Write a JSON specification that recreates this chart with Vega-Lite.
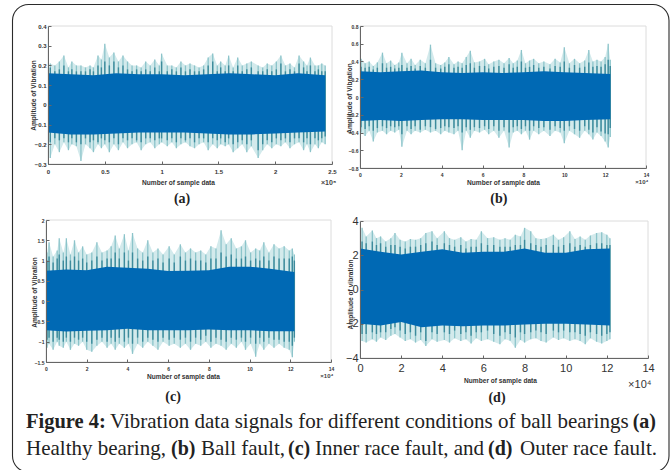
{"$schema":"https://vega.github.io/schema/vega-lite/v6.json","autosize":"none","width":670,"height":470,"padding":0,"background":"white",
"config":{"view":{"stroke":null},"axis":{"grid":false,"format":"~g","domainColor":"#666","tickColor":"#666","labelColor":"#333","titleColor":"#333","labelFont":"Liberation Sans","titleFont":"Liberation Sans","labelFontWeight":"bold","titleFontWeight":"bold","labelFontSize":6,"titleFontSize":6.6,"titleBaseline":"middle","tickSize":-3,"labelPadding":6,"labelFlush":false,"labelOverlap":false}},
"datasets":{
"as":[{"x":0.02,"h":0.21,"l":-0.27,"d":0.19,"e":-0.19},{"x":0.06,"h":0.2,"l":-0.2,"d":0.17,"e":-0.17},{"x":0.1,"h":0.22,"l":-0.24,"d":0.18,"e":-0.18},{"x":0.14,"h":0.25,"l":-0.19,"d":0.2,"e":-0.17},{"x":0.18,"h":0.19,"l":-0.23,"d":0.17,"e":-0.19},{"x":0.21,"h":0.22,"l":-0.2,"d":0.18,"e":-0.17},{"x":0.25,"h":0.2,"l":-0.21,"d":0.17,"e":-0.19},{"x":0.29,"h":0.2,"l":-0.285,"d":0.17,"e":-0.2},{"x":0.33,"h":0.19,"l":-0.2,"d":0.17,"e":-0.17},{"x":0.37,"h":0.2,"l":-0.22,"d":0.18,"e":-0.19},{"x":0.4,"h":0.19,"l":-0.24,"d":0.17,"e":-0.18},{"x":0.44,"h":0.25,"l":-0.2,"d":0.2,"e":-0.19},{"x":0.47,"h":0.23,"l":-0.22,"d":0.19,"e":-0.17},{"x":0.5,"h":0.31,"l":-0.2,"d":0.22,"e":-0.18},{"x":0.54,"h":0.24,"l":-0.24,"d":0.2,"e":-0.19},{"x":0.58,"h":0.265,"l":-0.2,"d":0.22,"e":-0.17},{"x":0.62,"h":0.22,"l":-0.23,"d":0.19,"e":-0.2},{"x":0.66,"h":0.25,"l":-0.19,"d":0.2,"e":-0.17},{"x":0.7,"h":0.22,"l":-0.22,"d":0.18,"e":-0.18},{"x":0.74,"h":0.2,"l":-0.2,"d":0.17,"e":-0.17},{"x":0.78,"h":0.2,"l":-0.19,"d":0.18,"e":-0.18},{"x":0.82,"h":0.19,"l":-0.23,"d":0.17,"e":-0.19},{"x":0.86,"h":0.22,"l":-0.2,"d":0.18,"e":-0.17},{"x":0.9,"h":0.2,"l":-0.19,"d":0.17,"e":-0.17},{"x":0.94,"h":0.23,"l":-0.22,"d":0.19,"e":-0.18},{"x":0.98,"h":0.2,"l":-0.2,"d":0.17,"e":-0.17},{"x":1.0,"h":0.26,"l":-0.19,"d":0.22,"e":-0.17},{"x":1.05,"h":0.2,"l":-0.21,"d":0.17,"e":-0.18},{"x":1.09,"h":0.2,"l":-0.19,"d":0.18,"e":-0.17},{"x":1.13,"h":0.19,"l":-0.22,"d":0.17,"e":-0.19},{"x":1.17,"h":0.22,"l":-0.2,"d":0.19,"e":-0.17},{"x":1.21,"h":0.2,"l":-0.19,"d":0.17,"e":-0.18},{"x":1.25,"h":0.21,"l":-0.21,"d":0.18,"e":-0.17},{"x":1.29,"h":0.2,"l":-0.22,"d":0.17,"e":-0.19},{"x":1.33,"h":0.19,"l":-0.2,"d":0.17,"e":-0.17},{"x":1.37,"h":0.2,"l":-0.19,"d":0.18,"e":-0.17},{"x":1.41,"h":0.24,"l":-0.23,"d":0.2,"e":-0.19},{"x":1.45,"h":0.26,"l":-0.2,"d":0.22,"e":-0.17},{"x":1.49,"h":0.2,"l":-0.22,"d":0.17,"e":-0.18},{"x":1.52,"h":0.22,"l":-0.2,"d":0.19,"e":-0.17},{"x":1.56,"h":0.2,"l":-0.21,"d":0.17,"e":-0.19},{"x":1.59,"h":0.25,"l":-0.2,"d":0.2,"e":-0.17},{"x":1.63,"h":0.19,"l":-0.24,"d":0.17,"e":-0.2},{"x":1.67,"h":0.24,"l":-0.22,"d":0.2,"e":-0.19},{"x":1.71,"h":0.2,"l":-0.2,"d":0.17,"e":-0.18},{"x":1.75,"h":0.21,"l":-0.24,"d":0.18,"e":-0.2},{"x":1.79,"h":0.22,"l":-0.21,"d":0.19,"e":-0.18},{"x":1.85,"h":0.2,"l":-0.27,"d":0.17,"e":-0.23},{"x":1.89,"h":0.19,"l":-0.23,"d":0.17,"e":-0.2},{"x":1.93,"h":0.21,"l":-0.2,"d":0.18,"e":-0.18},{"x":1.97,"h":0.2,"l":-0.22,"d":0.17,"e":-0.19},{"x":2.01,"h":0.22,"l":-0.2,"d":0.18,"e":-0.17},{"x":2.05,"h":0.25,"l":-0.21,"d":0.21,"e":-0.18},{"x":2.09,"h":0.2,"l":-0.19,"d":0.17,"e":-0.17},{"x":2.13,"h":0.21,"l":-0.22,"d":0.18,"e":-0.19},{"x":2.17,"h":0.19,"l":-0.2,"d":0.17,"e":-0.17},{"x":2.21,"h":0.25,"l":-0.19,"d":0.21,"e":-0.17},{"x":2.25,"h":0.22,"l":-0.23,"d":0.19,"e":-0.19},{"x":2.28,"h":0.2,"l":-0.2,"d":0.17,"e":-0.17},{"x":2.31,"h":0.24,"l":-0.24,"d":0.2,"e":-0.2},{"x":2.35,"h":0.2,"l":-0.2,"d":0.17,"e":-0.17},{"x":2.38,"h":0.2,"l":-0.22,"d":0.18,"e":-0.18},{"x":2.41,"h":0.21,"l":-0.19,"d":0.17,"e":-0.17},{"x":2.44,"h":0.2,"l":-0.2,"d":0.17,"e":-0.16}],
"ac":[{"x":0,"h":0.16,"l":-0.14},{"x":0.2,"h":0.155,"l":-0.15},{"x":0.4,"h":0.15,"l":-0.15},{"x":0.6,"h":0.16,"l":-0.145},{"x":0.8,"h":0.155,"l":-0.14},{"x":1,"h":0.155,"l":-0.14},{"x":1.2,"h":0.15,"l":-0.14},{"x":1.4,"h":0.155,"l":-0.145},{"x":1.6,"h":0.16,"l":-0.15},{"x":1.8,"h":0.155,"l":-0.15},{"x":2,"h":0.15,"l":-0.145},{"x":2.2,"h":0.16,"l":-0.14},{"x":2.44,"h":0.15,"l":-0.135}],
"bs":[{"x":0.05,"h":0.43,"l":-0.4,"d":0.34,"e":-0.34},{"x":0.25,"h":0.38,"l":-0.44,"d":0.33,"e":-0.36},{"x":0.45,"h":0.4,"l":-0.38,"d":0.34,"e":-0.33},{"x":0.65,"h":0.35,"l":-0.5,"d":0.31,"e":-0.38},{"x":0.85,"h":0.39,"l":-0.4,"d":0.33,"e":-0.35},{"x":1.1,"h":0.5,"l":-0.38,"d":0.38,"e":-0.33},{"x":1.3,"h":0.38,"l":-0.42,"d":0.33,"e":-0.35},{"x":1.5,"h":0.41,"l":-0.38,"d":0.34,"e":-0.33},{"x":1.7,"h":0.36,"l":-0.4,"d":0.32,"e":-0.34},{"x":1.9,"h":0.39,"l":-0.37,"d":0.33,"e":-0.33},{"x":2.05,"h":0.5,"l":-0.56,"d":0.36,"e":-0.42},{"x":2.3,"h":0.38,"l":-0.38,"d":0.33,"e":-0.33},{"x":2.5,"h":0.43,"l":-0.42,"d":0.35,"e":-0.36},{"x":2.7,"h":0.36,"l":-0.38,"d":0.32,"e":-0.33},{"x":2.95,"h":0.42,"l":-0.4,"d":0.35,"e":-0.37},{"x":3.2,"h":0.38,"l":-0.37,"d":0.33,"e":-0.33},{"x":3.45,"h":0.59,"l":-0.4,"d":0.42,"e":-0.34},{"x":3.7,"h":0.38,"l":-0.38,"d":0.33,"e":-0.36},{"x":3.95,"h":0.36,"l":-0.42,"d":0.32,"e":-0.35},{"x":4.15,"h":0.39,"l":-0.38,"d":0.34,"e":-0.33},{"x":4.35,"h":0.45,"l":-0.4,"d":0.37,"e":-0.34},{"x":4.6,"h":0.37,"l":-0.42,"d":0.33,"e":-0.35},{"x":4.8,"h":0.4,"l":-0.38,"d":0.34,"e":-0.33},{"x":5,"h":0.38,"l":-0.6,"d":0.33,"e":-0.4},{"x":5.2,"h":0.45,"l":-0.38,"d":0.36,"e":-0.34},{"x":5.4,"h":0.52,"l":-0.46,"d":0.38,"e":-0.37},{"x":5.6,"h":0.39,"l":-0.38,"d":0.33,"e":-0.34},{"x":5.85,"h":0.4,"l":-0.4,"d":0.35,"e":-0.35},{"x":6.1,"h":0.43,"l":-0.37,"d":0.35,"e":-0.33},{"x":6.3,"h":0.37,"l":-0.42,"d":0.32,"e":-0.36},{"x":6.55,"h":0.4,"l":-0.38,"d":0.34,"e":-0.33},{"x":6.8,"h":0.42,"l":-0.46,"d":0.35,"e":-0.38},{"x":7.05,"h":0.38,"l":-0.38,"d":0.33,"e":-0.34},{"x":7.3,"h":0.44,"l":-0.57,"d":0.37,"e":-0.4},{"x":7.5,"h":0.38,"l":-0.4,"d":0.33,"e":-0.34},{"x":7.7,"h":0.41,"l":-0.38,"d":0.34,"e":-0.33},{"x":7.9,"h":0.53,"l":-0.42,"d":0.4,"e":-0.36},{"x":8.1,"h":0.38,"l":-0.38,"d":0.33,"e":-0.33},{"x":8.3,"h":0.41,"l":-0.48,"d":0.34,"e":-0.38},{"x":8.5,"h":0.43,"l":-0.38,"d":0.36,"e":-0.33},{"x":8.75,"h":0.38,"l":-0.42,"d":0.33,"e":-0.35},{"x":9,"h":0.4,"l":-0.38,"d":0.34,"e":-0.34},{"x":9.3,"h":0.37,"l":-0.44,"d":0.32,"e":-0.37},{"x":9.55,"h":0.43,"l":-0.38,"d":0.35,"e":-0.33},{"x":9.8,"h":0.39,"l":-0.4,"d":0.34,"e":-0.35},{"x":10,"h":0.56,"l":-0.52,"d":0.4,"e":-0.38},{"x":10.25,"h":0.38,"l":-0.38,"d":0.33,"e":-0.33},{"x":10.5,"h":0.43,"l":-0.42,"d":0.36,"e":-0.36},{"x":10.75,"h":0.38,"l":-0.46,"d":0.33,"e":-0.38},{"x":11,"h":0.41,"l":-0.38,"d":0.34,"e":-0.33},{"x":11.2,"h":0.53,"l":-0.42,"d":0.39,"e":-0.37},{"x":11.4,"h":0.4,"l":-0.48,"d":0.34,"e":-0.4},{"x":11.6,"h":0.42,"l":-0.4,"d":0.35,"e":-0.34},{"x":11.8,"h":0.4,"l":-0.44,"d":0.34,"e":-0.39},{"x":12,"h":0.45,"l":-0.5,"d":0.37,"e":-0.41},{"x":12.15,"h":0.6,"l":-0.57,"d":0.42,"e":-0.42},{"x":12.25,"h":0.42,"l":-0.45,"d":0.35,"e":-0.35}],
"bc":[{"x":0,"h":0.29,"l":-0.27},{"x":1,"h":0.28,"l":-0.26},{"x":2,"h":0.29,"l":-0.27},{"x":3,"h":0.3,"l":-0.26},{"x":4,"h":0.28,"l":-0.25},{"x":5,"h":0.27,"l":-0.25},{"x":6,"h":0.28,"l":-0.26},{"x":7,"h":0.27,"l":-0.26},{"x":8,"h":0.28,"l":-0.26},{"x":9,"h":0.29,"l":-0.27},{"x":10,"h":0.28,"l":-0.27},{"x":11,"h":0.27,"l":-0.26},{"x":12.25,"h":0.26,"l":-0.25}],
"cs":[{"x":0.05,"h":1.2,"l":-1.15,"d":1.0,"e":-0.95},{"x":0.15,"h":1.45,"l":-1.05,"d":1.1,"e":-0.9},{"x":0.35,"h":1.1,"l":-1.2,"d":0.95,"e":-1.0},{"x":0.55,"h":1.25,"l":-1.0,"d":1.05,"e":-0.9},{"x":0.65,"h":1.55,"l":-1.1,"d":1.15,"e":-0.95},{"x":0.85,"h":1.2,"l":-1.15,"d":1.0,"e":-1.0},{"x":1.0,"h":1.55,"l":-1.0,"d":1.1,"e":-0.9},{"x":1.2,"h":1.15,"l":-1.2,"d":1.0,"e":-1.0},{"x":1.4,"h":1.5,"l":-1.05,"d":1.1,"e":-0.9},{"x":1.6,"h":1.2,"l":-1.1,"d":1.0,"e":-0.95},{"x":1.8,"h":1.35,"l":-1.0,"d":1.05,"e":-0.9},{"x":2.0,"h":1.15,"l":-1.2,"d":0.95,"e":-1.0},{"x":2.25,"h":1.2,"l":-1.25,"d":1.0,"e":-1.05},{"x":2.5,"h":1.45,"l":-1.1,"d":1.1,"e":-0.95},{"x":2.75,"h":1.2,"l":-1.0,"d":1.0,"e":-0.9},{"x":3.0,"h":1.25,"l":-1.15,"d":1.05,"e":-1.0},{"x":3.2,"h":1.35,"l":-1.05,"d":1.05,"e":-0.9},{"x":3.4,"h":1.62,"l":-1.2,"d":1.2,"e":-1.0},{"x":3.6,"h":1.3,"l":-1.05,"d":1.05,"e":-0.9},{"x":3.85,"h":1.65,"l":-1.15,"d":1.2,"e":-1.0},{"x":4.05,"h":1.25,"l":-1.05,"d":1.0,"e":-0.9},{"x":4.25,"h":1.68,"l":-1.3,"d":1.2,"e":-1.05},{"x":4.5,"h":1.3,"l":-1.05,"d":1.05,"e":-0.9},{"x":4.75,"h":1.2,"l":-1.15,"d":1.0,"e":-1.0},{"x":5.0,"h":1.5,"l":-1.0,"d":1.1,"e":-0.9},{"x":5.25,"h":1.2,"l":-1.1,"d":1.0,"e":-0.95},{"x":5.5,"h":1.3,"l":-1.2,"d":1.05,"e":-1.0},{"x":5.75,"h":1.15,"l":-1.0,"d":0.95,"e":-0.9},{"x":6.05,"h":1.35,"l":-1.1,"d":1.05,"e":-0.95},{"x":6.3,"h":1.15,"l":-1.05,"d":0.95,"e":-0.9},{"x":6.6,"h":1.4,"l":-1.15,"d":1.1,"e":-0.95},{"x":6.85,"h":1.2,"l":-1.05,"d":1.0,"e":-0.9},{"x":7.1,"h":1.3,"l":-1.2,"d":1.05,"e":-1.0},{"x":7.35,"h":1.2,"l":-1.05,"d":1.0,"e":-0.9},{"x":7.6,"h":1.25,"l":-1.1,"d":1.0,"e":-0.95},{"x":7.85,"h":1.15,"l":-1.0,"d":0.95,"e":-0.85},{"x":8.1,"h":1.35,"l":-1.15,"d":1.05,"e":-1.0},{"x":8.35,"h":1.3,"l":-1.05,"d":1.05,"e":-0.9},{"x":8.6,"h":1.75,"l":-1.1,"d":1.2,"e":-0.95},{"x":8.85,"h":1.4,"l":-1.2,"d":1.1,"e":-1.0},{"x":9.1,"h":1.55,"l":-1.05,"d":1.15,"e":-0.9},{"x":9.35,"h":1.3,"l":-1.15,"d":1.05,"e":-0.95},{"x":9.6,"h":1.35,"l":-1.0,"d":1.05,"e":-0.9},{"x":9.8,"h":1.5,"l":-1.2,"d":1.1,"e":-1.0},{"x":10.05,"h":1.2,"l":-1.05,"d":1.0,"e":-0.9},{"x":10.3,"h":1.3,"l":-1.37,"d":1.05,"e":-1.05},{"x":10.5,"h":1.25,"l":-1.05,"d":1.0,"e":-0.9},{"x":10.7,"h":1.45,"l":-1.2,"d":1.1,"e":-1.0},{"x":10.95,"h":1.2,"l":-1.05,"d":1.0,"e":-0.9},{"x":11.2,"h":1.4,"l":-1.15,"d":1.1,"e":-0.95},{"x":11.45,"h":1.3,"l":-1.05,"d":1.05,"e":-0.95},{"x":11.7,"h":1.35,"l":-1.15,"d":1.05,"e":-1.0},{"x":11.95,"h":1.25,"l":-1.2,"d":1.05,"e":-1.0},{"x":12.1,"h":1.3,"l":-1.38,"d":1.1,"e":-1.1},{"x":12.2,"h":1.15,"l":-1.0,"d":1.0,"e":-0.9}],
"cc":[{"x":0,"h":0.75,"l":-0.72},{"x":1,"h":0.78,"l":-0.75},{"x":2,"h":0.76,"l":-0.73},{"x":3,"h":0.85,"l":-0.72},{"x":4,"h":0.82,"l":-0.68},{"x":5,"h":0.8,"l":-0.72},{"x":6,"h":0.74,"l":-0.72},{"x":7,"h":0.75,"l":-0.72},{"x":8,"h":0.76,"l":-0.7},{"x":9,"h":0.85,"l":-0.72},{"x":10,"h":0.85,"l":-0.72},{"x":11,"h":0.8,"l":-0.74},{"x":12.2,"h":0.72,"l":-0.74}],
"ds":[{"x":0.1,"h":3.6,"l":-3.0,"d":2.8,"e":-2.6},{"x":0.3,"h":3.1,"l":-3.1,"d":2.7,"e":-2.6},{"x":0.6,"h":3.45,"l":-2.9,"d":2.8,"e":-2.5},{"x":0.8,"h":3.0,"l":-3.05,"d":2.6,"e":-2.6},{"x":1.0,"h":3.1,"l":-2.8,"d":2.7,"e":-2.5},{"x":1.25,"h":2.8,"l":-2.95,"d":2.5,"e":-2.5},{"x":1.5,"h":3.0,"l":-2.7,"d":2.6,"e":-2.3},{"x":1.7,"h":3.3,"l":-2.6,"d":2.6,"e":-2.2},{"x":1.95,"h":2.9,"l":-2.8,"d":2.5,"e":-2.4},{"x":2.2,"h":2.8,"l":-3.0,"d":2.4,"e":-2.6},{"x":2.45,"h":2.95,"l":-2.9,"d":2.5,"e":-2.5},{"x":2.7,"h":2.9,"l":-3.1,"d":2.5,"e":-2.7},{"x":2.95,"h":3.0,"l":-2.95,"d":2.6,"e":-2.5},{"x":3.2,"h":3.3,"l":-3.3,"d":2.7,"e":-3.0},{"x":3.5,"h":3.4,"l":-2.9,"d":2.8,"e":-2.5},{"x":3.75,"h":3.0,"l":-3.05,"d":2.6,"e":-2.6},{"x":4.1,"h":3.4,"l":-2.95,"d":2.7,"e":-2.5},{"x":4.35,"h":3.0,"l":-3.1,"d":2.6,"e":-2.6},{"x":4.6,"h":2.9,"l":-2.85,"d":2.5,"e":-2.4},{"x":4.9,"h":3.05,"l":-3.0,"d":2.6,"e":-2.6},{"x":5.15,"h":2.8,"l":-2.9,"d":2.4,"e":-2.5},{"x":5.4,"h":2.95,"l":-3.15,"d":2.5,"e":-2.7},{"x":5.65,"h":2.9,"l":-2.85,"d":2.5,"e":-2.5},{"x":5.9,"h":3.4,"l":-3.0,"d":2.7,"e":-2.5},{"x":6.2,"h":3.0,"l":-2.9,"d":2.6,"e":-2.4},{"x":6.5,"h":3.05,"l":-3.05,"d":2.6,"e":-2.6},{"x":6.8,"h":2.9,"l":-3.2,"d":2.5,"e":-2.7},{"x":7.05,"h":3.0,"l":-2.9,"d":2.5,"e":-2.5},{"x":7.3,"h":2.9,"l":-3.0,"d":2.5,"e":-2.6},{"x":7.55,"h":3.2,"l":-3.4,"d":2.6,"e":-2.8},{"x":7.8,"h":3.1,"l":-2.95,"d":2.6,"e":-2.5},{"x":8.0,"h":3.6,"l":-3.1,"d":2.9,"e":-2.6},{"x":8.3,"h":3.4,"l":-2.9,"d":2.7,"e":-2.5},{"x":8.55,"h":3.0,"l":-2.85,"d":2.6,"e":-2.4},{"x":8.8,"h":2.95,"l":-3.0,"d":2.5,"e":-2.5},{"x":9.05,"h":3.0,"l":-3.1,"d":2.6,"e":-2.6},{"x":9.4,"h":3.2,"l":-2.8,"d":2.6,"e":-2.4},{"x":9.65,"h":2.9,"l":-2.95,"d":2.5,"e":-2.5},{"x":9.9,"h":3.05,"l":-2.85,"d":2.6,"e":-2.4},{"x":10.2,"h":3.4,"l":-3.0,"d":2.7,"e":-2.5},{"x":10.45,"h":2.95,"l":-2.9,"d":2.5,"e":-2.5},{"x":10.7,"h":3.1,"l":-3.0,"d":2.6,"e":-2.6},{"x":10.95,"h":2.9,"l":-3.2,"d":2.5,"e":-2.7},{"x":11.2,"h":3.15,"l":-2.85,"d":2.6,"e":-2.5},{"x":11.5,"h":3.3,"l":-3.05,"d":2.7,"e":-2.6},{"x":11.75,"h":3.35,"l":-3.15,"d":2.7,"e":-2.7},{"x":12.0,"h":3.2,"l":-3.0,"d":2.6,"e":-2.6},{"x":12.15,"h":3.0,"l":-2.9,"d":2.6,"e":-2.5}],
"dc":[{"x":0,"h":2.4,"l":-2.0},{"x":1,"h":2.2,"l":-2.1},{"x":2,"h":2.05,"l":-1.9},{"x":3,"h":2.2,"l":-2.2},{"x":4,"h":2.35,"l":-2.1},{"x":5,"h":2.15,"l":-2.15},{"x":6,"h":2.2,"l":-2.1},{"x":7,"h":2.2,"l":-2.1},{"x":8,"h":2.4,"l":-2.05},{"x":9,"h":2.15,"l":-2.0},{"x":10,"h":2.15,"l":-2.0},{"x":11,"h":2.35,"l":-2.05},{"x":12.15,"h":2.4,"l":-2.1}]
},
"resolve":{"scale":{"x":"independent","y":"independent"},"axis":{"x":"independent","y":"independent"}},
"layer":[
{"layer":[
{"data":{"values":[{"a":0,"b":1,"c":0,"d":1}]},"mark":{"type":"rect","fillOpacity":0,"stroke":"#2b2b2b","strokeWidth":1.1,"cornerRadius":16},"encoding":{"x":{"field":"a","type":"quantitative","axis":null,"scale":{"domain":[0,1],"range":[12.5,669]}},"x2":{"field":"b"},"y":{"field":"c","type":"quantitative","axis":null,"scale":{"domain":[0,1],"range":[4.5,472]}},"y2":{"field":"d"}}},
{"data":{"values":[{"t":"Figure 4:"}]},"mark":{"type":"text","font":"Liberation Serif","fontWeight":"bold","fontSize":20.5,"color":"#222","align":"left","baseline":"alphabetic"},"encoding":{"text":{"field":"t"},"x":{"value":26},"y":{"value":428}}},
{"data":{"values":[{"t":"Vibration data signals for different conditions of ball bearings"}]},"mark":{"type":"text","font":"Liberation Serif","fontSize":21,"color":"#222","align":"left","baseline":"alphabetic"},"encoding":{"text":{"field":"t"},"x":{"value":110},"y":{"value":428}}},
{"data":{"values":[{"t":"(a)"}]},"mark":{"type":"text","font":"Liberation Serif","fontWeight":"bold","fontSize":20,"color":"#222","align":"right","baseline":"alphabetic"},"encoding":{"text":{"field":"t"},"x":{"value":656},"y":{"value":428}}},
{"data":{"values":[{"t":"Healthy bearing,"}]},"mark":{"type":"text","font":"Liberation Serif","fontSize":21,"color":"#222","align":"left","baseline":"alphabetic"},"encoding":{"text":{"field":"t"},"x":{"value":26},"y":{"value":455}}},
{"data":{"values":[{"t":"(b)"}]},"mark":{"type":"text","font":"Liberation Serif","fontWeight":"bold","fontSize":20,"color":"#222","align":"left","baseline":"alphabetic"},"encoding":{"text":{"field":"t"},"x":{"value":171},"y":{"value":455}}},
{"data":{"values":[{"t":"Ball fault,"}]},"mark":{"type":"text","font":"Liberation Serif","fontSize":21,"color":"#222","align":"left","baseline":"alphabetic"},"encoding":{"text":{"field":"t"},"x":{"value":201},"y":{"value":455}}},
{"data":{"values":[{"t":"(c)"}]},"mark":{"type":"text","font":"Liberation Serif","fontWeight":"bold","fontSize":20,"color":"#222","align":"left","baseline":"alphabetic"},"encoding":{"text":{"field":"t"},"x":{"value":288},"y":{"value":455}}},
{"data":{"values":[{"t":"Inner race fault, and"}]},"mark":{"type":"text","font":"Liberation Serif","fontSize":21,"color":"#222","align":"left","baseline":"alphabetic"},"encoding":{"text":{"field":"t"},"x":{"value":315},"y":{"value":455}}},
{"data":{"values":[{"t":"(d)"}]},"mark":{"type":"text","font":"Liberation Serif","fontWeight":"bold","fontSize":20,"color":"#222","align":"left","baseline":"alphabetic"},"encoding":{"text":{"field":"t"},"x":{"value":488},"y":{"value":455}}},
{"data":{"values":[{"t":"Outer race fault."}]},"mark":{"type":"text","font":"Liberation Serif","fontSize":21,"color":"#222","align":"right","baseline":"alphabetic"},"encoding":{"text":{"field":"t"},"x":{"value":657},"y":{"value":455}}}
]},
{"layer":[
{"data":{"name":"as"},"mark":{"type":"area","color":"#d3eaec"},"encoding":{"x":{"field":"x","type":"quantitative","title":"Number of sample data","scale":{"domain":[0,2.5],"nice":false,"zero":false,"range":[48,332]},"axis":{"zindex":1,"orient":"bottom","offset":-306,"values":[0,0.5,1,1.5,2,2.5],"labelPadding":7,"titleX":178,"titleY":18}},"y":{"field":"h","type":"quantitative","title":"Amplitude of Vibration","scale":{"domain":[-0.3,0.4],"nice":false,"zero":false,"range":[164,26]},"axis":{"zindex":1,"orient":"left","offset":-48,"values":[-0.3,-0.2,-0.1,0,0.1,0.2,0.3,0.4],"labelPadding":5,"titleX":-15,"titleY":95}},"y2":{"field":"l"}}},
{"data":{"name":"as"},"mark":{"type":"rule","color":"#8cc4ca","strokeWidth":1.3},"encoding":{"x":{"field":"x","type":"quantitative"},"y":{"field":"h","type":"quantitative"},"y2":{"field":"l"}}},
{"data":{"name":"as"},"mark":{"type":"rule","color":"#3d8b9c","strokeWidth":1.4},"encoding":{"x":{"field":"x","type":"quantitative"},"y":{"field":"d","type":"quantitative"},"y2":{"field":"e"}}},
{"data":{"name":"ac"},"mark":{"type":"area","color":"#0069b4"},"encoding":{"x":{"field":"x","type":"quantitative"},"y":{"field":"h","type":"quantitative"},"y2":{"field":"l"}}},
{"data":{"values":[{"x":0,"x2":2.5,"y":-0.3,"y2":0.4}]},"mark":{"type":"rect","fillOpacity":0,"stroke":"#dcdcdc","strokeWidth":1},"encoding":{"x":{"field":"x","type":"quantitative"},"x2":{"field":"x2"},"y":{"field":"y","type":"quantitative"},"y2":{"field":"y2"}}},
{"data":{"values":[{"x":2.47,"y":-0.3,"t":"×10⁵"}]},"mark":{"type":"text","font":"Liberation Sans","fontSize":7,"fontWeight":"bold","color":"#444","dy":19},"encoding":{"x":{"field":"x","type":"quantitative"},"y":{"field":"y","type":"quantitative"},"text":{"field":"t"}}},
{"data":{"values":[{"x":1.18,"y":-0.3,"t":"(a)"}]},"mark":{"type":"text","font":"Liberation Serif","fontSize":14,"fontWeight":"bold","color":"#222","dy":35},"encoding":{"x":{"field":"x","type":"quantitative"},"y":{"field":"y","type":"quantitative"},"text":{"field":"t"}}}
]},
{"layer":[
{"data":{"name":"bs"},"mark":{"type":"area","color":"#d3eaec"},"encoding":{"x":{"field":"x","type":"quantitative","title":"Number of sample data","scale":{"domain":[0,14],"nice":false,"zero":false,"range":[360,646]},"axis":{"zindex":1,"orient":"bottom","offset":-302,"values":[0,2,4,6,8,10,12,14],"labelFontSize":5,"labelPadding":7,"titleX":503,"titleY":14}},"y":{"field":"h","type":"quantitative","title":"Amplitude of Vibration","scale":{"domain":[-0.8,0.8],"nice":false,"zero":false,"range":[168,26]},"axis":{"zindex":1,"orient":"left","offset":-360,"values":[-0.8,-0.6,-0.4,-0.2,0,0.2,0.4,0.6,0.8],"labelFontSize":5,"labelPadding":5,"titleX":-11,"titleY":98}},"y2":{"field":"l"}}},
{"data":{"name":"bs"},"mark":{"type":"rule","color":"#8cc4ca","strokeWidth":1.3},"encoding":{"x":{"field":"x","type":"quantitative"},"y":{"field":"h","type":"quantitative"},"y2":{"field":"l"}}},
{"data":{"name":"bs"},"mark":{"type":"rule","color":"#3d8b9c","strokeWidth":1.4},"encoding":{"x":{"field":"x","type":"quantitative"},"y":{"field":"d","type":"quantitative"},"y2":{"field":"e"}}},
{"data":{"name":"bc"},"mark":{"type":"area","color":"#0069b4"},"encoding":{"x":{"field":"x","type":"quantitative"},"y":{"field":"h","type":"quantitative"},"y2":{"field":"l"}}},
{"data":{"values":[{"x":0,"x2":14,"y":-0.8,"y2":0.8}]},"mark":{"type":"rect","fillOpacity":0,"stroke":"#dcdcdc","strokeWidth":1},"encoding":{"x":{"field":"x","type":"quantitative"},"x2":{"field":"x2"},"y":{"field":"y","type":"quantitative"},"y2":{"field":"y2"}}},
{"data":{"values":[{"x":13.8,"y":-0.8,"t":"×10⁴"}]},"mark":{"type":"text","font":"Liberation Sans","fontSize":6,"fontWeight":"bold","color":"#444","dy":14},"encoding":{"x":{"field":"x","type":"quantitative"},"y":{"field":"y","type":"quantitative"},"text":{"field":"t"}}},
{"data":{"values":[{"x":6.8,"y":-0.8,"t":"(b)"}]},"mark":{"type":"text","font":"Liberation Serif","fontSize":14,"fontWeight":"bold","color":"#222","dy":31},"encoding":{"x":{"field":"x","type":"quantitative"},"y":{"field":"y","type":"quantitative"},"text":{"field":"t"}}}
]},
{"layer":[
{"data":{"name":"cs"},"mark":{"type":"area","color":"#d3eaec"},"encoding":{"x":{"field":"x","type":"quantitative","title":"Number of sample data","scale":{"domain":[0,14],"nice":false,"zero":false,"range":[46,331]},"axis":{"zindex":1,"orient":"bottom","offset":-108,"values":[0,2,4,6,8,10,12,14],"labelFontSize":5,"labelPadding":7,"titleX":183,"titleY":14}},"y":{"field":"h","type":"quantitative","title":"Amplitude of Vibration","scale":{"domain":[-1.5,2],"nice":false,"zero":false,"range":[362,220]},"axis":{"zindex":1,"orient":"left","offset":-46,"values":[-1.5,-1,-0.5,0,0.5,1,1.5,2],"labelFontSize":5,"labelPadding":5,"titleX":-12,"titleY":292}},"y2":{"field":"l"}}},
{"data":{"name":"cs"},"mark":{"type":"rule","color":"#8cc4ca","strokeWidth":1.3},"encoding":{"x":{"field":"x","type":"quantitative"},"y":{"field":"h","type":"quantitative"},"y2":{"field":"l"}}},
{"data":{"name":"cs"},"mark":{"type":"rule","color":"#3d8b9c","strokeWidth":1.4},"encoding":{"x":{"field":"x","type":"quantitative"},"y":{"field":"d","type":"quantitative"},"y2":{"field":"e"}}},
{"data":{"name":"cc"},"mark":{"type":"area","color":"#0069b4"},"encoding":{"x":{"field":"x","type":"quantitative"},"y":{"field":"h","type":"quantitative"},"y2":{"field":"l"}}},
{"data":{"values":[{"x":0,"x2":14,"y":-1.5,"y2":2}]},"mark":{"type":"rect","fillOpacity":0,"stroke":"#dcdcdc","strokeWidth":1},"encoding":{"x":{"field":"x","type":"quantitative"},"x2":{"field":"x2"},"y":{"field":"y","type":"quantitative"},"y2":{"field":"y2"}}},
{"data":{"values":[{"x":13.8,"y":-1.5,"t":"×10⁴"}]},"mark":{"type":"text","font":"Liberation Sans","fontSize":6,"fontWeight":"bold","color":"#444","dy":14},"encoding":{"x":{"field":"x","type":"quantitative"},"y":{"field":"y","type":"quantitative"},"text":{"field":"t"}}},
{"data":{"values":[{"x":6.24,"y":-1.5,"t":"(c)"}]},"mark":{"type":"text","font":"Liberation Serif","fontSize":14,"fontWeight":"bold","color":"#222","dy":35},"encoding":{"x":{"field":"x","type":"quantitative"},"y":{"field":"y","type":"quantitative"},"text":{"field":"t"}}}
]},
{"layer":[
{"data":{"name":"ds"},"mark":{"type":"area","color":"#d3eaec"},"encoding":{"x":{"field":"x","type":"quantitative","title":"Number of sample data","scale":{"domain":[0,14],"nice":false,"zero":false,"range":[360,648]},"axis":{"zindex":1,"orient":"bottom","offset":-112,"values":[0,2,4,6,8,10,12,14],"labelFontSize":11,"labelFontWeight":"normal","labelPadding":7,"titleX":500,"titleY":22}},"y":{"field":"h","type":"quantitative","title":"Amplitude of vibration","scale":{"domain":[-4,4],"nice":false,"zero":false,"range":[358,221]},"axis":{"zindex":1,"orient":"left","offset":-360,"values":[-4,-2,0,2,4],"labelFontSize":11,"labelFontWeight":"normal","labelPadding":5,"titleX":-10,"titleY":294}},"y2":{"field":"l"}}},
{"data":{"name":"ds"},"mark":{"type":"rule","color":"#8cc4ca","strokeWidth":1.3},"encoding":{"x":{"field":"x","type":"quantitative"},"y":{"field":"h","type":"quantitative"},"y2":{"field":"l"}}},
{"data":{"name":"ds"},"mark":{"type":"rule","color":"#3d8b9c","strokeWidth":1.4},"encoding":{"x":{"field":"x","type":"quantitative"},"y":{"field":"d","type":"quantitative"},"y2":{"field":"e"}}},
{"data":{"name":"dc"},"mark":{"type":"area","color":"#0069b4"},"encoding":{"x":{"field":"x","type":"quantitative"},"y":{"field":"h","type":"quantitative"},"y2":{"field":"l"}}},
{"data":{"values":[{"x":0,"x2":14,"y":-4,"y2":4}]},"mark":{"type":"rect","fillOpacity":0,"stroke":"#dcdcdc","strokeWidth":1},"encoding":{"x":{"field":"x","type":"quantitative"},"x2":{"field":"x2"},"y":{"field":"y","type":"quantitative"},"y2":{"field":"y2"}}},
{"data":{"values":[{"x":13.6,"y":-4,"t":"×10⁴"}]},"mark":{"type":"text","font":"Liberation Sans","fontSize":11,"color":"#333","dy":27},"encoding":{"x":{"field":"x","type":"quantitative"},"y":{"field":"y","type":"quantitative"},"text":{"field":"t"}}},
{"data":{"values":[{"x":6.66,"y":-4,"t":"(d)"}]},"mark":{"type":"text","font":"Liberation Serif","fontSize":14,"fontWeight":"bold","color":"#222","dy":40},"encoding":{"x":{"field":"x","type":"quantitative"},"y":{"field":"y","type":"quantitative"},"text":{"field":"t"}}}
]}
]}
